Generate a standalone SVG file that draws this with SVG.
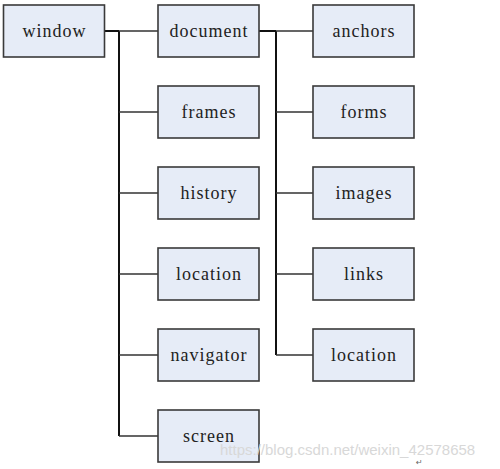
<svg xmlns="http://www.w3.org/2000/svg" width="500" height="469" viewBox="0 0 500 469">
<style>
.box{fill:#E6ECF7;stroke:#3a3a3a;stroke-width:1.6}
.lbl{font-family:"Liberation Serif",serif;font-size:18px;letter-spacing:1px;fill:#222;text-anchor:middle;dominant-baseline:central}
.trunk{stroke:#111;stroke-width:2;fill:none}
.br{stroke:#333;stroke-width:1.3;fill:none}
.wm{font-family:"Liberation Sans",sans-serif;font-size:15px;fill:#d8d8d8}
</style>
<rect width="500" height="469" fill="#fff"/>
<g id="connectors">
<path class="trunk" d="M104 31H119M119 31V436"/>
<path class="br" d="M119 31H158M119 112H158M119 193H158M119 274H158M119 355H158M119 436H158"/>
<path class="trunk" d="M259 31H276M276 31V355"/>
<path class="br" d="M276 31H313M276 112H313M276 193H313M276 274H313M276 355H313"/>
</g>
<g id="window"><rect class="box" x="3.5" y="5" width="101" height="52"/><text class="lbl" x="54.5" y="31">window</text></g>
<g id="document"><rect class="box" x="158" y="5" width="101" height="52"/><text class="lbl" x="209" y="31">document</text></g>
<g id="frames"><rect class="box" x="158" y="86" width="101" height="52"/><text class="lbl" x="209" y="112">frames</text></g>
<g id="history"><rect class="box" x="158" y="167" width="101" height="52"/><text class="lbl" x="209" y="193">history</text></g>
<g id="location1"><rect class="box" x="158" y="248" width="101" height="52"/><text class="lbl" x="209" y="274">location</text></g>
<g id="navigator"><rect class="box" x="158" y="329" width="101" height="52"/><text class="lbl" x="209" y="355">navigator</text></g>
<g id="screen"><rect class="box" x="158" y="410" width="101" height="52"/><text class="lbl" x="209" y="436">screen</text></g>
<g id="anchors"><rect class="box" x="313" y="5" width="101" height="52"/><text class="lbl" x="364" y="31">anchors</text></g>
<g id="forms"><rect class="box" x="313" y="86" width="101" height="52"/><text class="lbl" x="364" y="112">forms</text></g>
<g id="images"><rect class="box" x="313" y="167" width="101" height="52"/><text class="lbl" x="364" y="193">images</text></g>
<g id="links"><rect class="box" x="313" y="248" width="101" height="52"/><text class="lbl" x="364" y="274">links</text></g>
<g id="location2"><rect class="box" x="313" y="329" width="101" height="52"/><text class="lbl" x="364" y="355">location</text></g>
<text class="wm" x="220" y="455">https://blog.csdn.net/weixin_42578658</text>
<text x="416" y="465" font-family="DejaVu Sans,sans-serif" font-size="8" fill="#666">↵</text>
</svg>
